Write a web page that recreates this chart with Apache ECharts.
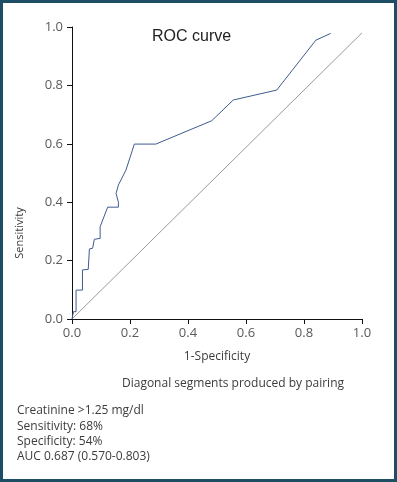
<!DOCTYPE html>
<html>
<head>
<meta charset="utf-8">
<script src="https://cdn.jsdelivr.net/npm/echarts@6/dist/echarts.min.js"></script>
<style>
  html, body { margin: 0; padding: 0; background: #fff; }
  #chart { width: 397px; height: 482px; }
</style>
</head>
<body>
<div id="chart"></div>
<script>
// ROC curve points (1-specificity, sensitivity)
const rocX = [0, 0.005, 0.014, 0.014, 0.036, 0.036, 0.056, 0.060, 0.071, 0.077, 0.097, 0.097, 0.123, 0.160, 0.160, 0.152, 0.160, 0.186, 0.215, 0.289, 0.482, 0.556, 0.706, 0.841, 0.892];
const rocY = [0, 0.025, 0.025, 0.099, 0.099, 0.168, 0.170, 0.240, 0.242, 0.273, 0.276, 0.316, 0.383, 0.383, 0.400, 0.430, 0.459, 0.510, 0.599, 0.599, 0.679, 0.750, 0.784, 0.955, 0.978];
const diagX = [0, 1];
const diagY = [0, 0.98];
const ticks = [0, 0.2, 0.4, 0.6, 0.8, 1.0];
const notes = [
  'Creatinine >1.25 mg/dl',
  'Sensitivity: 68%',
  'Specificity: 54%',
  'AUC 0.687 (0.570-0.803)'
];

const chart = echarts.init(document.getElementById('chart'), null, { renderer: 'canvas' });

const font = '"Open Sans", "Noto Sans", sans-serif';
const textColor = '#3c3c3c';

const axisCommon = {
  type: 'value',
  min: ticks[0],
  max: ticks[ticks.length - 1],
  interval: 0.2,
  splitLine: { show: false },
  axisLine: { show: true, onZero: false, lineStyle: { color: '#111', width: 1 } },
  axisTick: { show: true, inside: false, length: 5, lineStyle: { color: '#111' } },
  axisLabel: {
    color: '#5a5a5a',
    fontFamily: font,
    fontSize: 13,
    formatter: v => v.toFixed(1)
  }
};

const option = {
  animation: false,
  backgroundColor: '#fff',
  grid: { left: 72, right: 35, top: 27, bottom: 163 },
  xAxis: Object.assign({}, axisCommon, {
    name: '1-Specificity',
    nameLocation: 'middle',
    nameGap: 32,
    nameTextStyle: { color: textColor, fontFamily: font, fontSize: 12 },
    axisLabel: Object.assign({}, axisCommon.axisLabel, { margin: 8 })
  }),
  yAxis: Object.assign({}, axisCommon, {
    axisLabel: Object.assign({}, axisCommon.axisLabel, { margin: 9 })
  }),
  series: [
    {
      type: 'line',
      data: diagX.map((x, i) => [x, diagY[i]]),
      showSymbol: false,
      lineStyle: { color: '#9a9a9a', width: 1 },
      silent: true
    },
    {
      type: 'line',
      data: rocX.map((x, i) => [x, rocY[i]]),
      showSymbol: false,
      lineStyle: { color: '#3f5b8f', width: 1 },
      silent: true
    }
  ],
  graphic: [
    {
      type: 'rect',
      shape: { x: 1.5, y: 1.5, width: 394, height: 479 },
      style: { fill: 'none', stroke: '#1e4e65', lineWidth: 3 },
      silent: true
    },
    {
      type: 'text',
      left: 152, top: 29,
      style: { text: 'ROC curve', fill: '#222', font: '16px "Liberation Sans", Arial, sans-serif' }
    },
    {
      type: 'text',
      x: 20, y: 233,
      rotation: Math.PI / 2,
      style: {
        text: 'Sensitivity', fill: textColor,
        font: '11px ' + font, align: 'center', verticalAlign: 'middle'
      }
    },
    {
      type: 'text',
      x: 233, y: 384,
      style: {
        text: 'Diagonal segments produced by pairing', fill: textColor,
        font: '12px ' + font, align: 'center', verticalAlign: 'middle'
      }
    }
  ].concat(notes.map((t, i) => ({
    type: 'text',
    x: 17, y: 411 + i * 15.3,
    style: { text: t, fill: textColor, font: '12px ' + font, verticalAlign: 'middle' }
  })))
};

chart.setOption(option);
</script>
</body>
</html>
